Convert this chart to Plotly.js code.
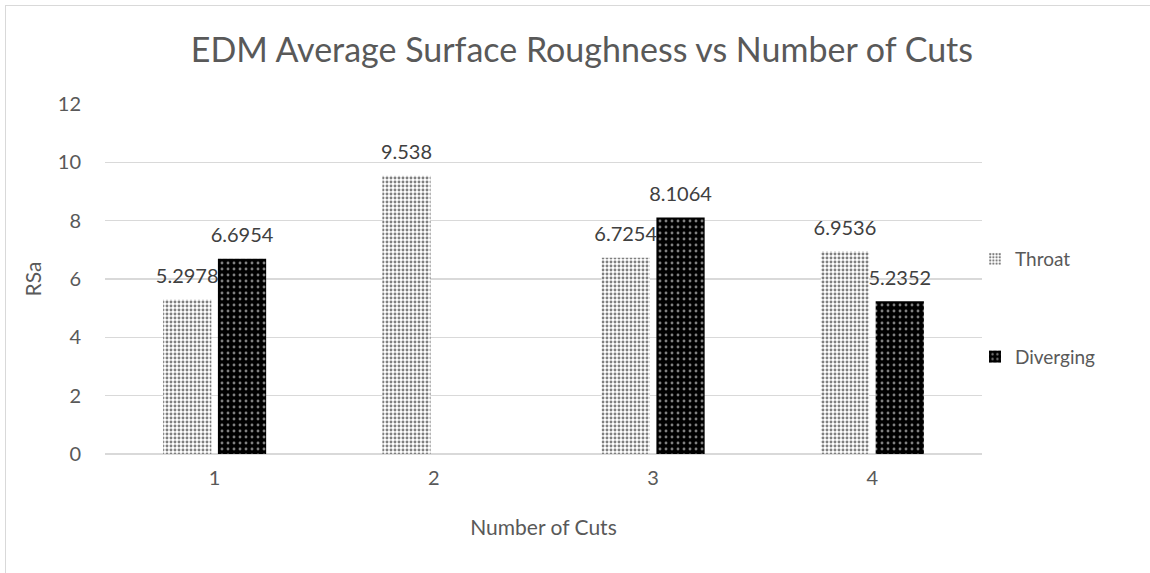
<!DOCTYPE html>
<html>
<head>
<meta charset="utf-8">
<script src="https://cdn.plot.ly/plotly-3.0.1.min.js"></script>
<style>
html,body{margin:0;padding:0;background:#fff;overflow:hidden;}
#chart{width:1150px;height:573px;position:absolute;left:0;top:0;}
#frame{position:absolute;left:5px;top:5px;width:1300px;height:800px;border:1.5px solid #d9d9d9;pointer-events:none;}
</style>
</head>
<body>
<div id="chart"></div>
<div id="frame"></div>
<script>
const categories = ["1", "2", "3", "4"];
const throat = [5.2978, 9.538, 6.7254, 6.9536];
const diverging = [6.6954, null, 8.1064, 5.2352];
const seriesNames = ["Throat", "Diverging"];

const FONT = "Lato, 'Open Sans', sans-serif";
const GREY = "#595959";

function barTrace(name, values, colour, pattern, group) {
  return {
    type: "bar", name: name, x: categories, y: values,
    marker: {color: colour, line: {width: 0}, pattern: pattern},
    legendgroup: group, hoverinfo: "skip"
  };
}
function labelTrace(name, values) {
  return {
    type: "scatter", mode: "markers+text", orientation: "v", name: name + " labels",
    x: categories, y: values,
    text: values.map(v => v == null ? "" : String(v)),
    textposition: "top center", cliponaxis: false,
    textfont: {family: FONT, size: 20, color: "#404040"},
    marker: {size: 17, color: "rgba(0,0,0,0)", opacity: 0},
    showlegend: false, hoverinfo: "skip"
  };
}

const traces = [
  barTrace(seriesNames[0], throat, "#ffffff",
    {shape: ".", fgcolor: "#000000", bgcolor: "#ffffff", size: 4, solidity: 0.42, fillmode: "overlay"}, "a"),
  barTrace(seriesNames[1], diverging, "#000000",
    {shape: ".", fgcolor: "#ffffff", bgcolor: "#000000", size: 6, solidity: 0.18, fillmode: "overlay"}, "b"),
  labelTrace(seriesNames[0], throat),
  labelTrace(seriesNames[1], diverging)
];

const layout = {
  width: 1150, height: 573,
  margin: {l: 105, r: 168, t: 104, b: 119},
  paper_bgcolor: "#ffffff", plot_bgcolor: "#ffffff",
  font: {family: FONT, color: GREY, size: 20},
  title: {text: "EDM Average Surface Roughness vs Number of Cuts",
    font: {family: FONT, size: 34, color: GREY},
    x: 0.506, xanchor: "center", xref: "container", y: 0.912, yanchor: "middle", yref: "container"},
  barmode: "group", bargap: 0.5, bargroupgap: 0.12,
  scattermode: "group", scattergap: 0.5,
  xaxis: {type: "category", showgrid: false, zeroline: false, showline: false, ticks: "",
    tickfont: {family: FONT, size: 20, color: GREY}, ticklabelstandoff: 10,
    title: {text: "Number of Cuts", font: {family: FONT, size: 21, color: GREY}, standoff: 32}},
  yaxis: {range: [0, 12], dtick: 2, showgrid: true, gridcolor: "#d9d9d9", gridwidth: 1.3,
    zeroline: true, zerolinecolor: "#d9d9d9", zerolinewidth: 1.3, showline: false, ticks: "",
    tickfont: {family: FONT, size: 20, color: GREY}, ticklabelstandoff: 23,
    title: {text: "RSa", font: {family: FONT, size: 21, color: GREY}, standoff: 10}},
  showlegend: true,
  legend: {x: 0.992, xanchor: "left", y: 0.417, yanchor: "middle", tracegroupgap: 70,
    font: {family: FONT, size: 19, color: GREY}, bgcolor: "rgba(0,0,0,0)", itemwidth: 30}
};

Plotly.newPlot("chart", traces, layout, {staticPlot: true, displayModeBar: false});
</script>
</body>
</html>
